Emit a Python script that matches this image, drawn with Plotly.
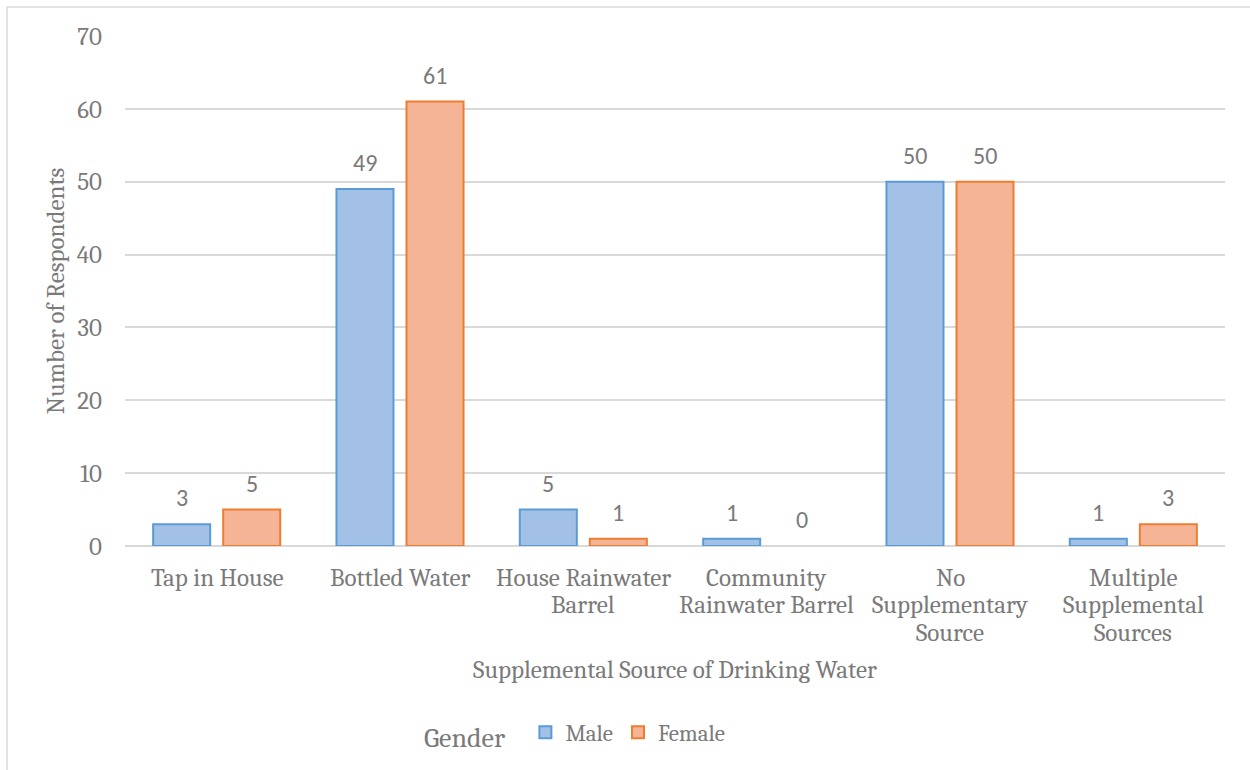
import plotly.graph_objects as go

# Supplemental drinking-water sources by respondent gender
categories = [
    "Tap in House",
    "Bottled Water",
    "House Rainwater<br>Barrel",
    "Community<br>Rainwater Barrel",
    "No<br>Supplementary<br>Source",
    "Multiple<br>Supplemental<br>Sources",
]
male = [3, 49, 5, 1, 50, 1]
female = [5, 61, 1, 0, 50, 3]
y_ticks = [0, 10, 20, 30, 40, 50, 60, 70]

SERIF = "Cambria, Caladea, 'DejaVu Serif', serif"
SANS = "Calibri, Carlito, Lato, sans-serif"
GRAY = "#7a7a7a"
GRID = "#d9d9d9"
FS = 25

W, H = 1250, 770
ML, MR, MT, MB = 125, 25, 36, 222
PW, PH = W - ML - MR, H - MT - MB

fig = go.Figure()
for name, vals, fill, edge in (("Male", male, "#a3c1e6", "#5b9bd5"),
                               ("Female", female, "#f6b496", "#ed7d31")):
    fig.add_trace(go.Bar(
        name=name, x=categories, y=vals,
        marker=dict(color=fill,
                    line=dict(color=edge, width=[0 if v == 0 else 2 for v in vals])),
    ))

# value labels above each bar
for vals, shift in ((male, -35), (female, 35)):
    for cat, v in zip(categories, vals):
        fig.add_annotation(
            x=cat, y=v, xref="x", yref="y", text=str(v), showarrow=False,
            xshift=shift, yshift=10, yanchor="bottom",
            font=dict(family=SANS, size=24, color=GRAY),
        )

# category labels, one annotation per line for tight line spacing
for cat in categories:
    for i, line in enumerate(cat.split("<br>")):
        fig.add_annotation(
            x=cat, y=0, xref="x", yref="y", text=line, showarrow=False,
            yanchor="middle", yshift=-(31 + i * 27.5),
            font=dict(family=SERIF, size=FS, color=GRAY),
        )

# outer chart frame (paper coordinates relative to the plot area)
fx0 = (7 - ML) / PW
fx1 = (W + 5 - ML) / PW
fy1 = 1 + (MT - 7) / PH
fy0 = -(H + 5 - (MT + PH)) / PH
fig.add_shape(type="rect", xref="paper", yref="paper",
              x0=fx0, x1=fx1, y0=fy0, y1=fy1,
              line=dict(color=GRID, width=1.5), fillcolor="rgba(0,0,0,0)")

fig.update_layout(
    width=W, height=H,
    margin=dict(l=ML, r=MR, t=MT, b=MB),
    paper_bgcolor="white", plot_bgcolor="white",
    barmode="group", bargap=0.236, bargroupgap=0.186,
    font=dict(family=SERIF, color=GRAY),
    showlegend=True,
    legend=dict(
        orientation="h", x=0.41, xanchor="center",
        y=-(737 - (MT + PH)) / PH, yanchor="middle",
        title=dict(text="Gender  ", font=dict(family=SERIF, size=28, color=GRAY)),
        font=dict(family=SERIF, size=23, color=GRAY),
        itemwidth=30, tracegroupgap=0,
    ),
    xaxis=dict(
        showticklabels=False,
        showgrid=False, showline=False, ticks="",
        title=dict(text="Supplemental Source of Drinking Water",
                   font=dict(family=SERIF, size=FS, color=GRAY), standoff=114),
    ),
    yaxis=dict(
        range=[0, 70], tickvals=y_ticks,
        tickfont=dict(family=SERIF, size=FS, color=GRAY),
        showgrid=True, gridcolor=GRID, gridwidth=1.5,
        zeroline=True, zerolinecolor=GRID, zerolinewidth=1.5,
        ticks="", ticklabelstandoff=22,
        title=dict(text="Number of Respondents",
                   font=dict(family=SERIF, size=FS, color=GRAY), standoff=5),
    ),
)

fig.write_html("out.html")
